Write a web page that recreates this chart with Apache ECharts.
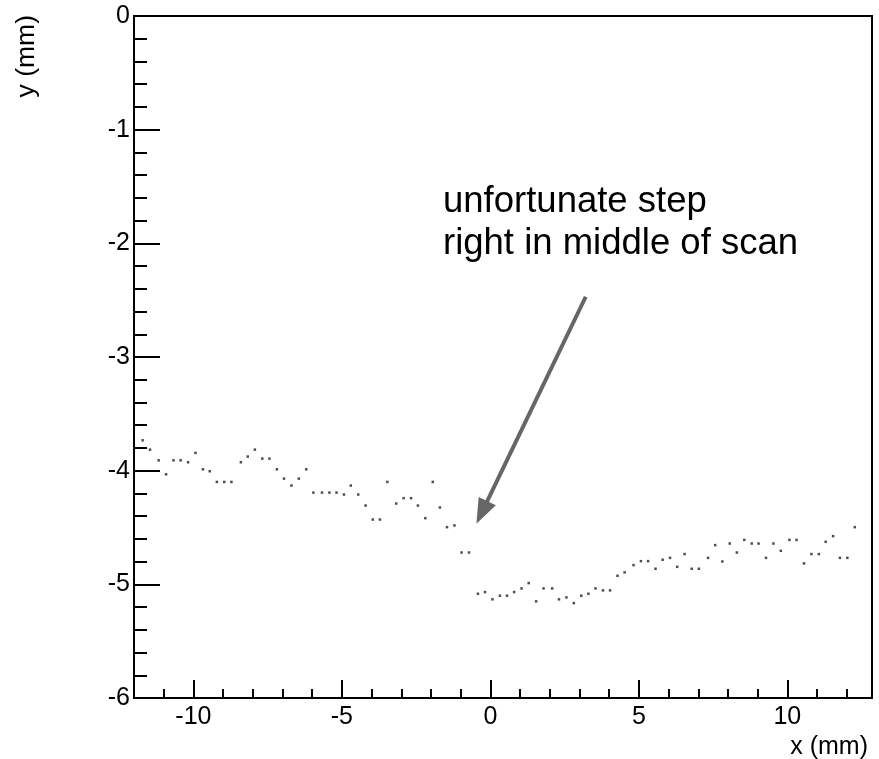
<!DOCTYPE html>
<html>
<head>
<meta charset="utf-8">
<script src="https://cdn.jsdelivr.net/npm/echarts@6/dist/echarts.min.js"></script>
<style>
html,body{margin:0;padding:0;background:#fff;}
#chart{width:879px;height:759px;}
</style>
</head>
<body>
<div id="chart"></div>
<script>
// ---- data ----
const xValues = [-11.71,-11.46,-11.17,-10.92,-10.67,-10.43,-10.18,-9.93,-9.68,-9.45,-9.21,-8.96,-8.72,-8.40,-8.17,-7.93,-7.68,-7.44,-7.19,-6.95,-6.70,-6.45,-6.20,
  -5.96,-5.67,-5.42,-5.18,-4.93,-4.70,-4.45,-4.20,-3.96,-3.72,-3.47,-3.17,-2.92,-2.67,-2.44,-2.19,-1.94,-1.70,-1.46,-1.21,-0.97,-0.72,
  -0.42,-0.18,0.07,0.32,0.56,0.80,1.05,1.29,1.54,1.79,2.08,2.31,2.56,2.81,3.06,3.30,3.54,3.79,4.03,4.28,4.52,4.82,5.07,5.31,5.56,
  5.80,6.05,6.29,6.54,6.78,7.02,7.33,7.57,7.81,8.06,8.30,8.55,8.80,9.03,9.28,9.53,9.78,10.07,10.31,10.56,10.81,11.06,11.29,11.54,11.77,12.02,12.27];
const yValues = [-3.733,-3.815,-3.909,-4.032,-3.909,-3.909,-3.926,-3.844,-3.988,-4.005,-4.099,-4.099,-4.099,-3.926,-3.876,-3.815,-3.894,-3.894,-3.988,-4.070,-4.131,-4.070,-3.988,
  -4.193,-4.193,-4.193,-4.193,-4.210,-4.131,-4.210,-4.307,-4.430,-4.430,-4.099,-4.289,-4.242,-4.242,-4.307,-4.418,-4.099,-4.324,-4.497,-4.482,-4.720,-4.720,
  -5.083,-5.068,-5.132,-5.100,-5.100,-5.068,-5.036,-4.989,-5.150,-5.036,-5.036,-5.132,-5.115,-5.165,-5.100,-5.083,-5.036,-5.053,-5.053,-4.925,-4.895,-4.831,-4.796,-4.796,-4.863,
  -4.784,-4.767,-4.846,-4.734,-4.863,-4.863,-4.767,-4.655,-4.799,-4.641,-4.720,-4.609,-4.641,-4.641,-4.767,-4.641,-4.705,-4.609,-4.609,-4.816,-4.734,-4.734,-4.626,-4.576,-4.767,-4.767,-4.497];
const xMajorTicks = [-10, -5, 0, 5, 10];
const xMinorTicks = [-11,-9,-8,-7,-6,-4,-3,-2,-1,1,2,3,4,6,7,8,9,11,12];
const xTitle = 'x (mm)';
const yTitle = 'y (mm)';
const noteLines = ['unfortunate step', 'right in middle of scan'];
const arrowFrom = [3.21, -2.47];
const arrowTo = [-0.47, -4.466];

const FONT = '"Liberation Sans", Arial, Helvetica, sans-serif';
const chart = echarts.init(document.getElementById('chart'), null, {renderer: 'canvas'});
const points = xValues.map((x, i) => [x, yValues[i]]);

const option = {
  animation: false,
  backgroundColor: '#fff',
  grid: {left: 134, right: 7, top: 16, bottom: 61, show: true, borderColor: '#000', borderWidth: 2, backgroundColor: 'transparent'},
  xAxis: [
    {
      type: 'value', min: -12, max: 12.85, position: 'bottom',
      axisLine: {show: true, onZero: false, lineStyle: {color: '#000', width: 2}},
      splitLine: {show: false},
      axisTick: {show: true, inside: true, length: 18, customValues: xMajorTicks, lineStyle: {color: '#000', width: 2}},
      axisLabel: {show: true, customValues: xMajorTicks, fontSize: 25, color: '#000', margin: 7, fontFamily: FONT}
    },
    {
      type: 'value', min: -12, max: 12.85, position: 'bottom',
      axisLine: {show: false, onZero: false},
      splitLine: {show: false},
      axisTick: {show: true, inside: true, length: 9, customValues: xMinorTicks, lineStyle: {color: '#000', width: 2}},
      axisLabel: {show: false}
    }
  ],
  yAxis: {
    type: 'value', min: -6, max: 0, interval: 1,
    axisLine: {show: true, onZero: false, lineStyle: {color: '#000', width: 2}},
    splitLine: {show: false},
    axisTick: {show: true, inside: true, length: 26, lineStyle: {color: '#000', width: 2}},
    minorTick: {show: true, splitNumber: 5, length: 13, lineStyle: {color: '#000', width: 2}},
    minorSplitLine: {show: false},
    axisLabel: {fontSize: 25, color: '#000', margin: 4, fontFamily: FONT}
  },
  series: [{
    type: 'scatter', xAxisIndex: 0, yAxisIndex: 0,
    data: points, symbol: 'rect', symbolSize: 2.5,
    itemStyle: {color: '#222'}, silent: true
  }]
};
chart.setOption(option);

const p0 = chart.convertToPixel({xAxisIndex: 0, yAxisIndex: 0}, arrowFrom);
const p1 = chart.convertToPixel({xAxisIndex: 0, yAxisIndex: 0}, arrowTo);
const dx = p1[0] - p0[0], dy = p1[1] - p0[1];
const len = Math.sqrt(dx * dx + dy * dy);
const ux = dx / len, uy = dy / len;
const headLen = 25, headHalf = 9.5;
const bx = p1[0] - ux * headLen, by = p1[1] - uy * headLen;
const nx = -uy, ny = ux;

chart.setOption({
  graphic: [
    {type: 'line', shape: {x1: p0[0], y1: p0[1], x2: bx + ux * 2, y2: by + uy * 2}, style: {stroke: '#666', lineWidth: 4}, silent: true},
    {type: 'polygon', shape: {points: [[p1[0], p1[1]], [bx + nx * headHalf, by + ny * headHalf], [bx - nx * headHalf, by - ny * headHalf]]}, style: {fill: '#666'}, silent: true},
    {type: 'text', x: 443, y: 202, style: {text: noteLines[0], font: '36.5px ' + FONT, fill: '#000', align: 'left', verticalAlign: 'middle'}, silent: true},
    {type: 'text', x: 443, y: 243.5, style: {text: noteLines[1], font: '36.5px ' + FONT, fill: '#000', align: 'left', verticalAlign: 'middle'}, silent: true},
    {type: 'text', x: 868, y: 747, style: {text: xTitle, font: '25px ' + FONT, fill: '#000', align: 'right', verticalAlign: 'middle'}, silent: true},
    {type: 'text', x: 27, y: 15, rotation: Math.PI / 2, style: {text: yTitle, font: '26.5px ' + FONT, fill: '#000', align: 'right', verticalAlign: 'middle'}, silent: true}
  ]
});
</script>
</body>
</html>
